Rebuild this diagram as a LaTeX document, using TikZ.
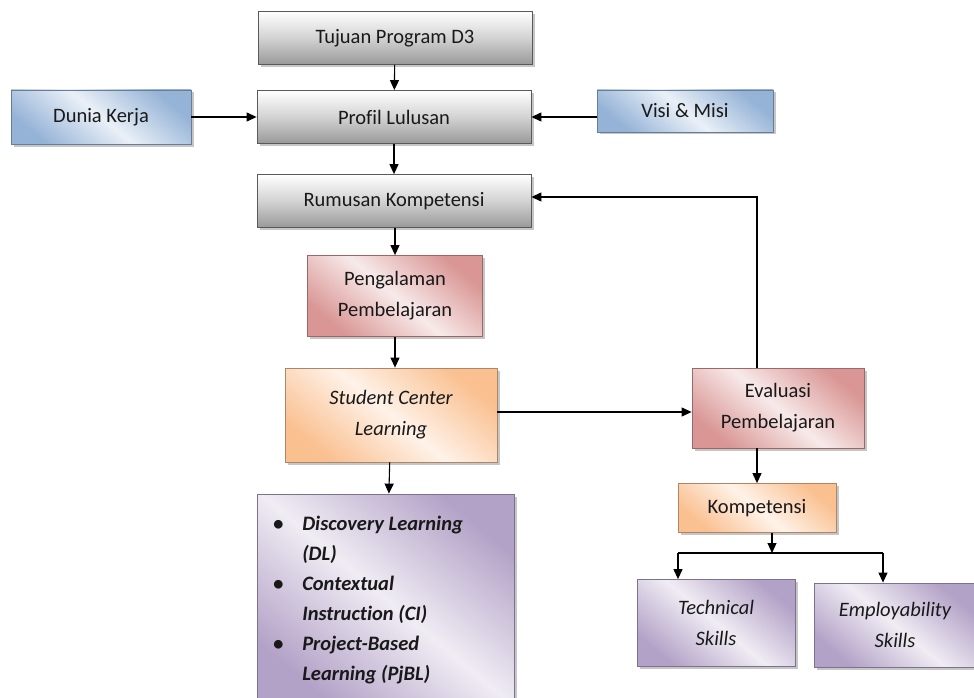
\documentclass[tikz,border=0pt]{standalone}
\usepackage{fontspec}
\setmainfont{Carlito}[Ligatures=CommonOff]
\usetikzlibrary{arrows.meta,shadows}
\definecolor{biru}{HTML}{95B3D7}
\definecolor{merah}{HTML}{D99694}
\definecolor{oranye}{HTML}{FAC090}
\definecolor{ungu}{HTML}{B3A2C7}
\begin{document}
\begin{tikzpicture}[x=1pt,y=-1pt,
  kotak/.style={draw=#1!70!black, line width=.8pt, top color=#1, bottom color=#1,
    middle color=#1!20!white, shading angle=-40, align=center, inner sep=0pt,
    text=black!90, font=\fontsize{20.5}{31}\selectfont,
    drop shadow={shadow xshift=2.5pt,shadow yshift=-2.5pt,opacity=.45}},
  abu/.style={kotak=gray, top color=white, bottom color=gray!80, middle color=gray!35, shading angle=0},
  panah/.style={-{Triangle[length=10pt,width=9pt]}, line width=1.1pt}]
\useasboundingbox (0,0) rectangle (974,698);
% kolom kiri
\node[abu, minimum width=274, minimum height=53] (tujuan) at (395,38) {Tujuan Program D3};
\node[abu, minimum width=274, minimum height=53] (profil) at (394,117) {Profil Lulusan};
\node[abu, minimum width=274, minimum height=53] (rumusan) at (394,201) {Rumusan Kompetensi};
\node[kotak=biru, minimum width=180, minimum height=54] (dunia) at (101,117) {Dunia Kerja};
\node[kotak=biru, minimum width=176, minimum height=42] (visi) at (685,111) {Visi \& Misi};
\node[kotak=merah, minimum width=175, minimum height=81] (pengalaman) at (395,296) {Pengalaman\\Pembelajaran};
\node[kotak=oranye, minimum width=212, minimum height=94] (scl) at (391,415) {\itshape Student Center\\\itshape Learning};
\node[kotak=ungu, minimum width=257, minimum height=210] (metode) at (386,599)
  {\fontsize{20.5}{30}\selectfont\bfseries\itshape
   \begin{tabular}{@{}l@{\hspace{19pt}}l@{}}
   \textbullet & Discovery Learning\\ & (DL)\\
   \textbullet & Contextual\\ & Instruction (CI)\\
   \textbullet & Project-Based\\ & Learning (PjBL)
   \end{tabular}\hspace{36pt}};
% kolom kanan
\node[kotak=merah, minimum width=172, minimum height=80] (evaluasi) at (778,408) {Evaluasi\\Pembelajaran};
\node[kotak=oranye, minimum width=158, minimum height=49] (kompetensi) at (757,508) {Kompetensi};
\node[kotak=ungu, minimum width=158, minimum height=87] (teknis) at (716,623) {\itshape Technical\\\itshape Skills};
\node[kotak=ungu, minimum width=162, minimum height=84] (employ) at (895,625) {\itshape Employability\\\itshape Skills};
\coordinate (balik) at (757,197);
\coordinate (cabang) at (772,553);
\coordinate (kiri) at (678,553);
\coordinate (kanan) at (883,553);
% panah
\draw[panah] (tujuan) -- (profil);
\draw[panah] (profil) -- (rumusan);
\draw[panah] (dunia) -- (profil);
\draw[panah] (visi.west |- profil.east) -- (profil.east);
\draw[panah] (rumusan.south -| pengalaman.north) -- (pengalaman);
\draw[panah] (pengalaman) -- (scl.north -| pengalaman.south);
\draw[panah] (scl) -- (metode);
\draw[panah] (scl.east) ++(0,-3) -- (evaluasi.west |- 0,412);
\draw[panah] (evaluasi.north -| balik) -- (balik) -- (rumusan.east |- balik);
\draw[panah] (evaluasi.south -| kompetensi) -- (kompetensi);
\draw[panah] (kompetensi.south -| cabang) -- (cabang);
\draw[line width=1.1pt] (kiri) -- (kanan);
\draw[panah] (kiri) -- (kiri |- teknis.north);
\draw[panah] (kanan) -- (kanan |- employ.north);
\end{tikzpicture}
\end{document}
